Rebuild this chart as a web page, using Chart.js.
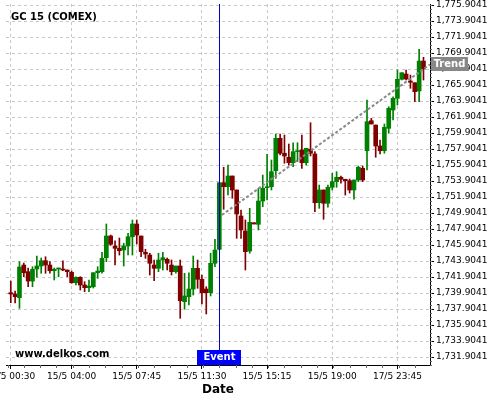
<!DOCTYPE html>
<html><head><meta charset="utf-8">
<script src="https://cdn.jsdelivr.net/npm/chart.js@4/dist/chart.umd.min.js"></script>
<style>html,body{margin:0;padding:0;background:#fff;}#wrap{width:500px;height:400px;position:relative;}</style>
</head><body><div id="wrap"><canvas id="c" width="500" height="400"></canvas></div>
<script>
// 15-minute OHLC candles, index 0 = 15/5 00:30
const opens  = [1739.94,1739.78,1739.32,1743.40,1742.57,1741.40,1742.90,1743.28,1743.94,1743.40,
                1742.69,1742.90,1742.90,1742.78,1742.49,1741.19,1741.87,1740.90,1740.57,1740.69,
                1742.44,1742.57,1744.32,1747.03,1745.78,1745.49,1745.28,1745.78,1746.94,1748.53,
                1747.03,1744.99,1744.65,1743.40,1742.99,1744.03,1744.12,1743.40,1742.57,1743.28,
                1738.82,1739.44,1740.40,1742.99,1741.62,1740.40,1739.94,1743.62,1745.37,1753.69,
                1753.19,1754.53,1752.78,1749.53,1747.65,1745.15,1748.69,1748.49,1751.40,1753.07,
                1753.19,1755.19,1759.24,1757.37,1756.87,1756.19,1757.57,1757.78,1756.19,1757.87,
                1757.28,1751.19,1752.78,1751.12,1753.12,1753.82,1754.37,1754.12,1753.94,1752.78,
                1754.03,1755.49,1757.69,1761.44,1760.90,1758.28,1757.69,1760.49,1762.78,1764.24,
                1766.62,1767.28,1766.40,1766.19,1765.15,1768.90];
const highs  = [1741.40,1740.15,1743.82,1743.65,1743.03,1743.19,1744.53,1744.28,1744.44,1743.82,
                1743.03,1743.03,1743.94,1742.78,1742.65,1741.94,1741.94,1741.32,1741.53,1742.44,
                1743.19,1744.99,1748.53,1747.15,1746.44,1746.78,1746.12,1747.37,1749.03,1749.03,
                1747.03,1745.37,1744.87,1744.03,1744.87,1744.99,1744.28,1744.03,1743.28,1744.03,
                1742.37,1742.44,1744.53,1744.03,1742.15,1740.69,1744.87,1746.62,1753.69,1755.62,
                1755.90,1754.53,1752.78,1750.28,1749.03,1750.49,1748.69,1752.99,1754.65,1757.24,
                1756.53,1759.78,1759.78,1759.65,1758.53,1758.69,1758.69,1759.65,1757.99,1761.19,
                1757.57,1753.40,1752.78,1753.40,1754.87,1755.07,1754.53,1754.12,1754.15,1754.03,
                1755.78,1755.78,1764.03,1761.74,1760.90,1759.03,1761.03,1763.19,1764.44,1767.78,
                1767.44,1767.78,1767.15,1766.19,1770.37,1769.37];
const lows   = [1738.69,1738.65,1737.99,1741.94,1740.69,1740.69,1741.87,1742.37,1742.37,1742.37,
                1741.53,1741.94,1742.69,1741.94,1741.12,1740.90,1740.28,1740.07,1740.07,1740.53,
                1741.74,1742.37,1743.82,1745.87,1743.40,1744.65,1743.28,1744.65,1744.65,1746.03,
                1744.44,1744.24,1742.15,1741.44,1742.57,1742.78,1742.78,1742.15,1742.37,1736.74,
                1737.87,1738.40,1739.65,1740.49,1738.53,1737.28,1739.53,1743.19,1745.28,1750.37,
                1752.15,1751.74,1746.74,1746.74,1742.78,1744.87,1748.53,1747.78,1750.69,1751.53,
                1752.78,1754.24,1757.15,1756.12,1755.90,1755.69,1756.32,1755.49,1755.90,1757.03,
                1750.07,1750.49,1749.12,1750.62,1752.78,1753.12,1753.62,1752.15,1752.40,1751.62,
                1753.82,1753.82,1755.28,1761.03,1756.87,1757.28,1757.37,1759.87,1761.53,1763.40,
                1766.53,1766.53,1765.49,1763.82,1763.82,1766.53];
const closes = [1739.78,1739.44,1743.15,1742.44,1741.40,1742.87,1743.28,1743.94,1743.40,1742.69,
                1742.87,1743.03,1742.78,1742.57,1741.19,1741.87,1740.90,1740.57,1740.78,1742.44,
                1742.65,1744.24,1747.03,1745.99,1745.49,1745.19,1745.78,1746.94,1748.53,1747.15,
                1745.07,1744.78,1743.62,1742.99,1744.03,1744.32,1743.62,1742.57,1743.28,1738.94,
                1739.53,1740.40,1742.99,1741.62,1739.94,1739.94,1743.62,1745.28,1753.69,1753.19,
                1754.53,1752.78,1749.78,1747.78,1745.07,1748.74,1748.53,1751.40,1752.99,1753.19,
                1755.07,1759.24,1757.37,1757.03,1756.19,1757.57,1757.69,1756.19,1757.99,1757.37,
                1751.19,1752.78,1751.12,1753.12,1753.82,1754.37,1754.12,1753.94,1752.78,1754.03,
                1755.62,1754.03,1761.32,1761.03,1758.28,1757.69,1760.62,1762.99,1764.24,1766.62,
                1767.44,1766.65,1766.24,1765.07,1768.90,1767.90];

const xTickIndex  = [0, 14, 29, 44, 59, 74, 89];
const xTickLabels = ['15/5 00:30','15/5 04:00','15/5 07:45','15/5 11:30','15/5 15:15','15/5 19:00','17/5 23:45'];
const yTickValues = [1731.9041,1733.9041,1735.9041,1737.9041,1739.9041,1741.9041,1743.9041,1745.9041,
                     1747.9041,1749.9041,1751.9041,1753.9041,1755.9041,1757.9041,1759.9041,1761.9041,
                     1763.9041,1765.9041,1767.9041,1769.9041,1771.9041,1773.9041,1775.9041];
const eventIndex = 48;
const eventLabel = 'Event';
const trendX = [48.6, 96.5];
const trendY = [1749.65, 1768.47];
const trendLabel = 'Trend';
const titleText = 'GC 15 (COMEX)';
const watermark = 'www.delkos.com';
const xTitle = 'Date';

const UP = '#008000', DOWN = '#800000';
const idx = opens.map((_, i) => i);
const colors = idx.map(i => closes[i] >= opens[i] ? UP : DOWN);
const FONT = '"DejaVu Sans", sans-serif';

const fmt = v => v.toLocaleString('en-US', {minimumFractionDigits: 4, maximumFractionDigits: 4});

const annot = {
  id: 'annot',
  afterDraw(chart) {
    const {ctx, chartArea: a, scales: {x, y}} = chart;
    ctx.save();
    // minor ticks on y axis
    ctx.strokeStyle = '#666'; ctx.lineWidth = 1;
    ctx.beginPath();
    for (let v = yTickValues[0] - 2; v <= y.max; v += 0.5) {
      if (v < y.min) continue;
      const py = Math.round(y.getPixelForValue(v)) + 0.5;
      ctx.moveTo(a.right, py); ctx.lineTo(a.right + 2, py);
    }
    // minor ticks on x axis
    for (let k = -1; k < 30; k++) {
      const v = xTickIndex[0] + (k * 3.75) - 0.75;
      if (v < x.min || v > x.max) continue;
      const px = Math.round(x.getPixelForValue(v)) + 0.5;
      ctx.moveTo(px, a.bottom); ctx.lineTo(px, a.bottom + 3);
    }
    ctx.stroke();

    // event line + label
    const ex = Math.round(x.getPixelForValue(eventIndex)) + 0.5;
    ctx.strokeStyle = '#0000cc'; ctx.lineWidth = 1;
    ctx.beginPath(); ctx.moveTo(ex, a.top); ctx.lineTo(ex, a.bottom - 15); ctx.stroke();
    ctx.fillStyle = '#0000ff';
    ctx.fillRect(ex - 22.5, a.bottom - 15, 44, 15);
    ctx.fillStyle = '#fff'; ctx.font = 'bold 10px ' + FONT;
    ctx.textAlign = 'center'; ctx.textBaseline = 'middle';
    ctx.fillText(eventLabel, ex, a.bottom - 7.5);

    // trend label
    const ty = y.getPixelForValue(trendY[1]);
    ctx.fillStyle = '#888';
    ctx.fillRect(a.right + 1, Math.round(ty) - 7, 37, 14);
    ctx.fillStyle = '#fff';
    ctx.fillText(trendLabel, a.right + 19.5, Math.round(ty));

    // title + watermark
    ctx.fillStyle = '#000'; ctx.textAlign = 'left'; ctx.textBaseline = 'alphabetic';
    ctx.font = 'bold 10px ' + FONT;
    ctx.fillText(titleText, a.left + 5, a.top + 15.5);
    ctx.fillText(watermark, a.left + 9, a.bottom - 8);
    ctx.restore();
  }
};

new Chart(document.getElementById('c'), {
  type: 'bar',
  data: {
    datasets: [
      {
        type: 'line', order: 0,
        data: trendX.map((v, i) => ({x: v, y: trendY[i]})),
        borderColor: '#8a8a8a', borderWidth: 2, borderDash: [3, 2],
        pointRadius: 0, fill: false
      },
      {
        order: 1, grouped: false,
        data: idx.map(i => ({x: i, y: [Math.min(opens[i], closes[i]), Math.max(opens[i], closes[i])]})),
        backgroundColor: colors, borderWidth: 0, barThickness: 4, minBarLength: 1
      },
      {
        order: 2, grouped: false,
        data: idx.map(i => ({x: i, y: [lows[i], highs[i]]})),
        backgroundColor: colors, borderWidth: 0, barThickness: 1, minBarLength: 1
      }
    ]
  },
  options: {
    responsive: false, animation: false,
    layout: {padding: {left: 6, top: 4, right: 0, bottom: 0}},
    plugins: {legend: {display: false}, tooltip: {enabled: false}},
    scales: {
      x: {
        type: 'linear', min: -1.1, max: 96.5, offset: false,
        afterBuildTicks: s => { s.ticks = xTickIndex.map(v => ({value: v})); },
        afterFit: s => { s.paddingLeft = 0; s.paddingRight = 0; s.height = 35; },
        ticks: {
          autoSkip: false, maxRotation: 0, minRotation: 0, padding: 2,
          color: '#000', font: {family: FONT, size: 9},
          callback: v => xTickLabels[xTickIndex.indexOf(v)]
        },
        grid: {offset: false, color: '#c8c8c8', lineWidth: 1, tickColor: '#000', tickLength: 4, tickBorderDash: []},
        border: {display: true, color: '#000', width: 1, dash: [3, 3]},
        title: {display: true, text: xTitle, color: '#000', font: {family: FONT, size: 12, weight: 'bold'}, padding: {top: 0, bottom: 3}}
      },
      y: {
        type: 'linear', position: 'right', min: 1730.9041, max: 1776.03,
        afterBuildTicks: s => { s.ticks = yTickValues.map(v => ({value: v})); },
        afterFit: s => { s.width = 70; s.paddingTop = 0; s.paddingBottom = 0; },
        ticks: {autoSkip: false, color: '#000', padding: 2, font: {family: FONT, size: 9}, callback: v => fmt(v)},
        grid: {color: '#c8c8c8', lineWidth: 1, tickColor: '#000', tickLength: 4, tickBorderDash: []},
        border: {display: true, color: '#000', width: 1, dash: [3, 3]}
      }
    }
  },
  plugins: [annot]
});
</script>
</body></html>
